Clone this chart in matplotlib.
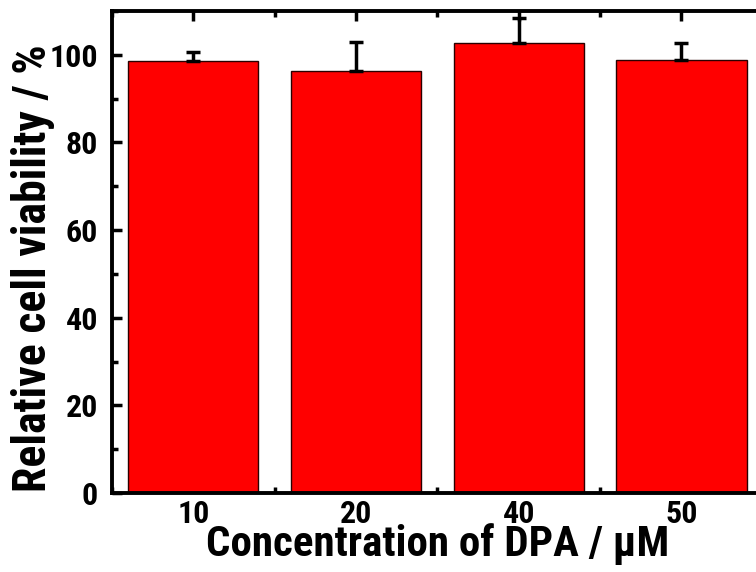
import matplotlib
matplotlib.use("Agg")
import matplotlib.pyplot as plt
from matplotlib.ticker import MultipleLocator, FixedLocator

categories = ["10", "20", "40", "50"]
viability = [98.5, 96.2, 102.7, 98.8]
errors_up = [2.2, 6.8, 5.6, 3.9]

plt.rcParams["font.family"] = ["Roboto Condensed", "Liberation Sans", "DejaVu Sans"]
plt.rcParams["font.weight"] = "bold"

fig = plt.figure(figsize=(7.56, 5.72), dpi=100)
ax = fig.add_axes([0.148, 0.138, 0.861, 0.843])

x = list(range(len(categories)))
ax.bar(x, viability, width=0.8, color="#ff0000", edgecolor="#2a0000", linewidth=1.0, zorder=2)
ax.errorbar(x, viability, yerr=[[0] * len(errors_up), errors_up], fmt="none",
            ecolor="black", elinewidth=2.5, capsize=5, capthick=2.5, zorder=3)

ax.set_xlim(-0.5, len(categories) - 0.5)
ax.set_ylim(0, 110)
ax.set_xticks(x)
ax.set_xticklabels(categories)
ax.xaxis.set_minor_locator(FixedLocator([i + 0.5 for i in range(-1, len(categories))]))
ax.yaxis.set_major_locator(MultipleLocator(20))
ax.yaxis.set_minor_locator(MultipleLocator(10))

ax.tick_params(which="both", direction="in", top=True, right=False, width=2.5, labelsize=23)
ax.tick_params(axis="x", pad=4)
ax.tick_params(axis="y", pad=10)
ax.tick_params(which="major", length=7)
ax.tick_params(which="minor", length=4)
for lab in ax.get_xticklabels() + ax.get_yticklabels():
    lab.set_fontweight("bold")

for side in ["left", "bottom", "top", "right"]:
    ax.spines[side].set_linewidth(2.8)

ax.set_xlabel("Concentration of DPA / µM", fontsize=31, fontweight="bold", labelpad=-4)
ax.set_ylabel("Relative cell viability / %", fontsize=33, fontweight="bold")
ax.yaxis.set_label_coords(-0.088, 0.467)

fig.savefig("out.png", dpi=100)
